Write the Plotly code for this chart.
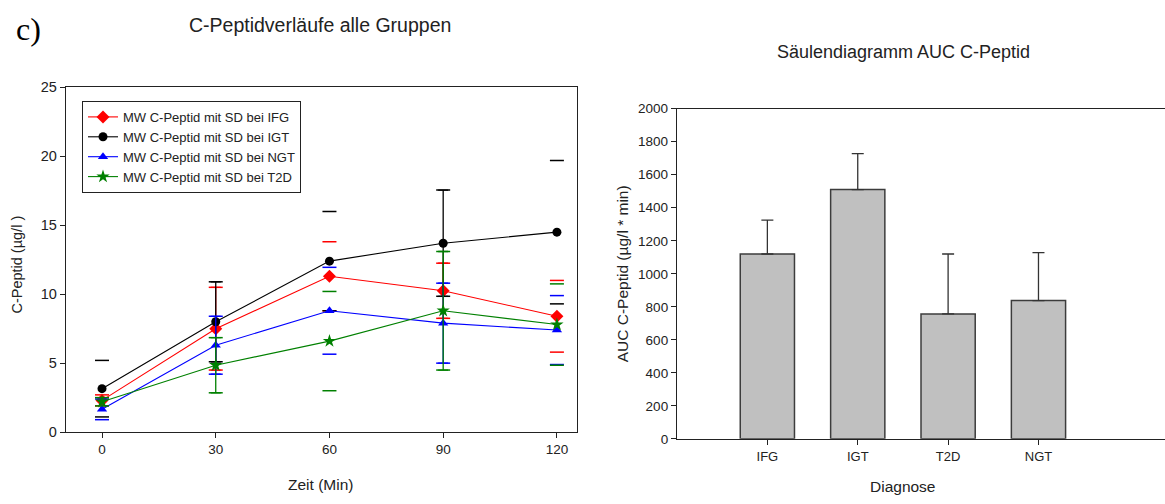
import plotly.graph_objects as go

# --- C-peptide time courses (mean and SD per group) ---
zeit = [0, 30, 60, 90, 120]

ifg_mw = [2.3, 7.5, 11.3, 10.25, 8.4]
ifg_sd = [0.4, 3.0, 2.5, 2.0, 2.6]

igt_mw = [3.15, 8.0, 12.4, 13.7, 14.5]
igt_sd = [2.05, 2.9, 3.6, 3.85, 5.2]

ngt_mw = [1.65, 6.3, 8.8, 7.9, 7.4]
ngt_sd = [0.75, 2.1, 3.15, 2.9, 2.5]

t2d_mw = [2.2, 4.85, 6.6, 8.8, 7.8]
t2d_sd = [0.3, 2.0, 3.6, 4.3, 2.95]

# --- AUC C-peptide per diagnosis ---
diagnose = ["IFG", "IGT", "T2D", "NGT"]
auc_mw = [1120, 1510, 757, 838]
auc_sd = [205, 218, 363, 290]

W, H = 1165, 504
FONT = "Liberation Sans, Arial, sans-serif"

series = [
    ("MW C-Peptid mit SD bei IFG", ifg_mw, ifg_sd, "#ff0000", "diamond", 10),
    ("MW C-Peptid mit SD bei IGT", igt_mw, igt_sd, "#000000", "circle", 9),
    ("MW C-Peptid mit SD bei NGT", ngt_mw, ngt_sd, "#0000ff", "triangle-up", 9),
    ("MW C-Peptid mit SD bei T2D", t2d_mw, t2d_sd, "#008000", "star", 10),
]

# time points where the full error stem is drawn; elsewhere only caps
stem_times = [30, 90]

fig = go.Figure()

for name, mw, sd, col, sym, size in series:
    # error-bar stems
    idx = [i for i, t in enumerate(zeit) if t in stem_times]
    fig.add_trace(go.Scatter(
        x=[zeit[i] for i in idx], y=[mw[i] for i in idx],
        mode="markers", marker=dict(size=1, color="rgba(0,0,0,0)"),
        error_y=dict(type="data", array=[sd[i] for i in idx], symmetric=True,
                     color=col, thickness=1.3, width=5),
        showlegend=False, hoverinfo="skip", xaxis="x", yaxis="y"))
    # caps at mean +/- SD
    fig.add_trace(go.Scatter(
        x=zeit + zeit,
        y=[m + s for m, s in zip(mw, sd)] + [m - s for m, s in zip(mw, sd)],
        mode="markers",
        marker=dict(symbol="line-ew", size=10, line=dict(color=col, width=1.5)),
        showlegend=False, hoverinfo="skip", xaxis="x", yaxis="y"))
    # mean curve
    fig.add_trace(go.Scatter(
        x=zeit, y=mw, name=name, mode="lines+markers",
        line=dict(color=col, width=1.1),
        marker=dict(symbol=sym, size=size, color=col),
        xaxis="x", yaxis="y"))

fig.add_trace(go.Bar(
    x=diagnose, y=auc_mw, width=0.6,
    marker=dict(color="#c0c0c0", line=dict(color="#3c3c3c", width=1.5)),
    error_y=dict(type="data", array=auc_sd, arrayminus=[0] * len(auc_sd),
                 symmetric=False, color="#333333", thickness=1.3, width=6),
    showlegend=False, xaxis="x2", yaxis="y2"))

axis_common = dict(showline=True, linecolor="#222222", linewidth=1.3,
                   ticks="outside", ticklen=5, tickcolor="#222222",
                   showgrid=False, zeroline=False)


def tf(size):
    return dict(family=FONT, size=size, color="#222222")


fig.update_layout(
    width=W, height=H,
    margin=dict(l=0, r=0, t=0, b=0),
    paper_bgcolor="white", plot_bgcolor="white",
    font=dict(family=FONT, color="#222222"),
    xaxis=dict(domain=[66 / W, 577 / W], range=[-9.5, 125.3],
               tickvals=zeit, mirror=True, anchor="y", tickfont=tf(13.5),
               **axis_common),
    yaxis=dict(domain=[1 - 438 / H, 1 - 82 / H], range=[0, 25],
               tickvals=[0, 5, 10, 15, 20, 25], mirror=True, anchor="x",
               tickfont=tf(14.5), **axis_common),
    xaxis2=dict(domain=[677 / W, 1.0], range=[-1.0, 4.4], type="category",
                mirror=True, anchor="y2", tickfont=tf(13), **axis_common),
    yaxis2=dict(domain=[1 - 445 / H, 1 - 104 / H], range=[0, 2000],
                tickvals=list(range(0, 2001, 200)), anchor="x2",
                tickfont=tf(13.5), **axis_common),
    legend=dict(x=82 / W, y=1 - 96 / H, xanchor="left", yanchor="top",
                bordercolor="#222222", borderwidth=1, bgcolor="white",
                itemwidth=30, tracegroupgap=0, font=tf(13)),
    bargap=0.4,
)

ann = [
    dict(text="c)", x=28, y=22, font=dict(family="Liberation Serif, Times New Roman, serif", size=32, color="#000000")),
    dict(text="C-Peptidverläufe alle Gruppen", x=320, y=18, font=dict(size=19.5)),
    dict(text="Säulendiagramm AUC C-Peptid", x=903, y=45, font=dict(size=18)),
    dict(text="Zeit (Min)", x=320, y=492, font=dict(size=15.5)),
    dict(text="Diagnose", x=903, y=494, font=dict(size=15.5)),
    dict(text="C-Peptid (µg/l )", x=17, y=265, font=dict(size=14.5)),
    dict(text="AUC C-Peptid (µg/l * min)", x=622, y=275, font=dict(size=15.5)),
]
for a in ann:
    f = dict(family=FONT, color="#222222")
    f.update(a.pop("font"))
    ang = -90 if a["text"].startswith(("C-Peptid (", "AUC")) else 0
    fig.add_annotation(xref="paper", yref="paper", x=a.pop("x") / W,
                       y=1 - a.pop("y") / H, xanchor="center", yanchor="middle",
                       showarrow=False, font=f, textangle=ang, **a)

fig.write_html("out.html")
